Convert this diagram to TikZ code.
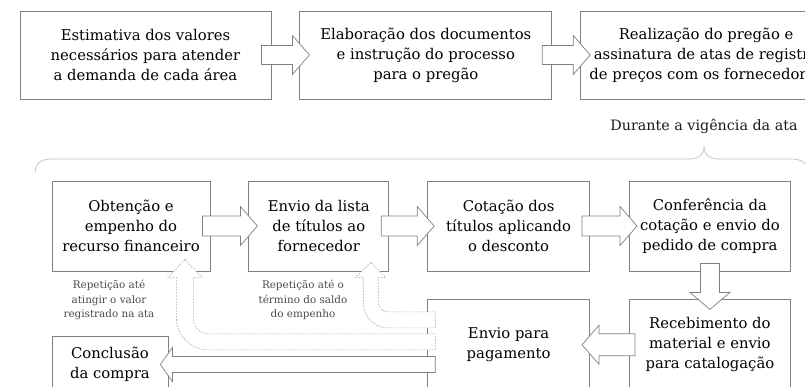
\documentclass[tikz,border=0pt]{standalone}
\usepackage{fontspec}
\setmainfont{DejaVu Serif}
\usetikzlibrary{positioning, calc}
\definecolor{boxgray}{HTML}{808080}
\definecolor{dashgray}{HTML}{A8A8A8}
\definecolor{bracegray}{HTML}{C0C0C0}
\definecolor{notegray}{HTML}{4A4A4A}

\tikzset{
  etapa/.style={draw=boxgray, line width=0.8pt, align=center, inner sep=1pt, font=\fontsize{14.8}{20}\selectfont, text=black},
  nota/.style={align=center, inner sep=0pt, font=\fontsize{10.4}{14.5}\selectfont, text=notegray},
  seta/.style={draw=boxgray, line width=0.7pt, fill=white},
  setarep/.style={draw=dashgray, line width=0.6pt, fill=white, dash pattern=on 1.6pt off 1.4pt},
}

% seta em bloco: inicio, ponta, meia largura da haste, meia largura da ponta, comprimento da ponta
\newcommand{\setabloco}[6][]{%
  \path[seta,#1] let \p1=(#2), \p2=(#3), \n1={atan2(\y2-\y1,\x2-\x1)}, \n2={veclen(\x2-\x1,\y2-\y1)} in
    [shift={(\p1)}, rotate=\n1] (0,#4) -- (\n2-#6,#4) -- (\n2-#6,#5) -- (\n2,0) -- (\n2-#6,-#5) -- (\n2-#6,-#4) -- (0,-#4) -- cycle;}

\begin{document}
\begin{tikzpicture}[x=1pt, y=1pt]

        \useasboundingbox (0,0) rectangle (805,-386);
        \clip (0,0) rectangle (805,-386);

        % Linha superior
        \node[etapa, minimum width=251pt, minimum height=88pt] (estim) at (145.5,-55) {Estimativa dos valores\\necessários para atender\\a demanda de cada área};
        \node[etapa, minimum width=252pt, minimum height=88pt, right=28pt of estim] (elab) {Elaboração dos documentos\\e instrução do processo\\para o pregão};
        \node[etapa, minimum width=251pt, minimum height=88pt, right=28pt of elab] (preg) {Realização do pregão e\\assinatura de atas de registro\\de preços com os fornecedores};

        % Chave da vigência
        \node[font=\fontsize{14.3}{18}\selectfont, text=black!90, inner sep=1pt] (durante) at (704,-126) {Durante a vigência da ata};
        \draw[bracegray, line width=0.7pt] (35,-173) .. controls (35,-163) and (41,-159) .. (52,-159) -- (689,-159) .. controls (699,-159) and (704,-154) .. (704,-147) .. controls (704,-154) and (709,-159) .. (719,-159) -- (791,-159) .. controls (802,-159) and (808,-163) .. (808,-173);

        % Ciclo durante a vigencia
        \node[etapa, minimum width=158pt, minimum height=90pt] (fund) at (131,-226) {Obtenção e\\empenho do\\recurso financeiro};
        \node[etapa, minimum width=140pt, minimum height=90pt, right=38pt of fund] (lista) {Envio da lista\\de títulos ao\\fornecedor};
        \node[etapa, minimum width=162pt, minimum height=90pt, right=38pt of lista] (cota) {Cotação dos\\títulos aplicando\\o desconto};
        \node[etapa, minimum width=161pt, minimum height=90pt, right=39pt of cota] (conf) {Conferência da\\cotação e envio do\\pedido de compra};
        \node[etapa, minimum width=161pt, minimum height=90pt, below=28pt of conf] (receb) {Recebimento do\\material e envio\\para catalogação};
        \node[etapa, minimum width=162pt, minimum height=90pt, left=39pt of receb] (pag) {Envio para\\pagamento};
        \node[etapa, minimum width=116pt, minimum height=56pt] (concl) at (110,-364.5) {Conclusão\\da compra};

        % Notas de repeticao
        \node[nota] (rep1) at (109,-300) {Repetição até\\atingir o valor\\registrado na ata};
        \node[nota] (rep2) at (303,-300) {Repetição até o\\término do saldo\\do empenho};

        % Setas em bloco
        \setabloco{$(estim.east)+(-10,0)$}{$(elab.west)+(10,0)$}{9.5}{19.5}{17}
        \setabloco{$(elab.east)+(-10,0)$}{$(preg.west)+(10,0)$}{9.5}{19.5}{17}
        \setabloco{$(fund.east)+(-8,0)$}{$(lista.west)+(9,0)$}{10}{19.5}{17}
        \setabloco{$(lista.east)+(-8,0)$}{$(cota.west)+(7,0)$}{10}{19.5}{17}
        \setabloco{$(cota.east)+(-8,0)$}{$(conf.west)+(8,0)$}{10}{19.5}{17}
        \setabloco{$(conf.south)+(0,8)$}{$(receb.north)+(0,-10)$}{9.5}{20}{17}
        \setabloco{$(receb.west)+(6,0)$}{$(pag.east)+(-8,0)$}{11}{19.5}{17}
        \setabloco{$(concl.east -| pag.west)+(8,0)$}{$(concl.east)+(-8,0)$}{8}{17}{12}

        % Setas tracejadas de repeticao
        \coordinate (pontaL) at ($(lista.south east)+(-18.5,9)$);
        \coordinate (fimL) at ($(pag.north west)+(8,-20.5)$);
        \path[setarep] let \p1=(pontaL), \p2=(fimL) in (\p1) -- (\x1-15,\y1-15) -- (\x1-7.5,\y1-15) -- (\x1-7.5,\y2-8+25) arc[start angle=180,end angle=270,radius=25] -- (\x2,\y2-8) -- (\x2,\y2+8) -- (\x1+7.5+10,\y2+8) arc[start angle=270,end angle=180,radius=10] -- (\x1+7.5,\y1-15) -- (\x1+15,\y1-15) -- cycle;

        \coordinate (pontaF) at ($(fund.south east)+(-25.5,12)$);
        \coordinate (fimF) at ($(pag.north west)+(8,-42.5)$);
        \path[setarep] let \p1=(pontaF), \p2=(fimF) in (\p1) -- (\x1-17,\y1-18) -- (\x1-8.5,\y1-18) -- (\x1-8.5,\y2-8+32) arc[start angle=180,end angle=270,radius=32] -- (\x2,\y2-8) -- (\x2,\y2+8) -- (\x1+8.5+15,\y2+8) arc[start angle=270,end angle=180,radius=15] -- (\x1+8.5,\y1-18) -- (\x1+17,\y1-18) -- cycle;

\end{tikzpicture}
\end{document}
